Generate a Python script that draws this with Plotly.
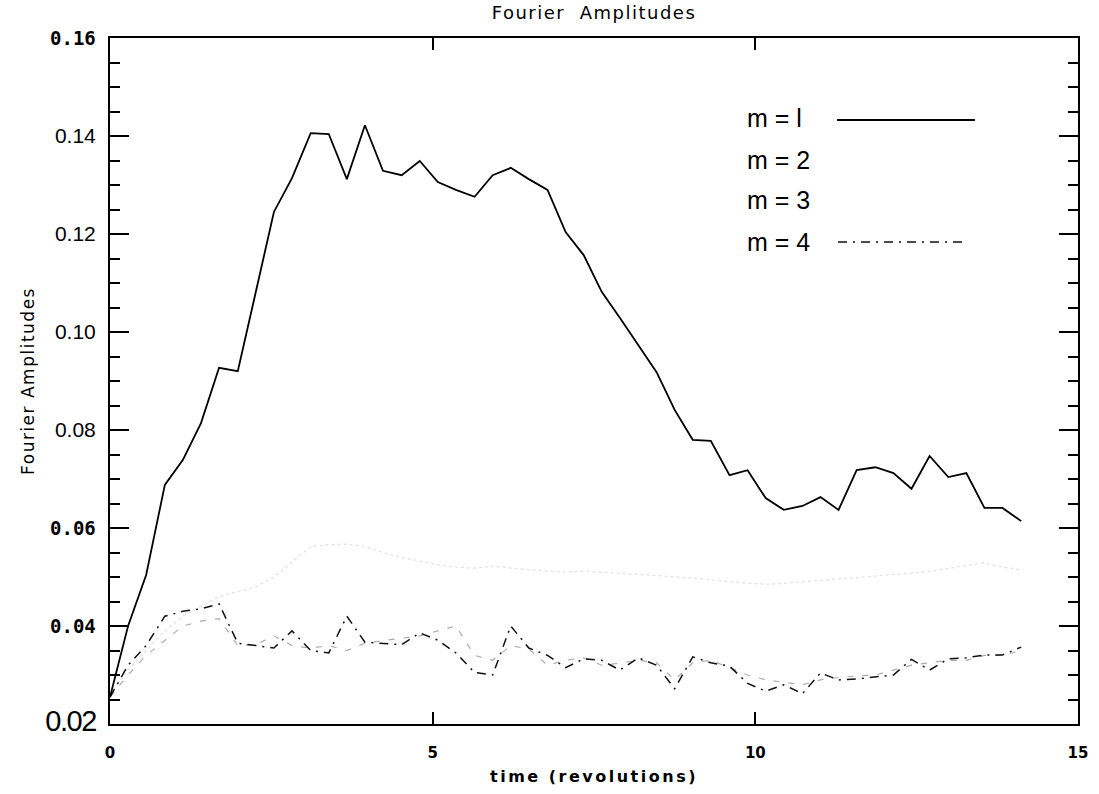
import plotly.graph_objects as go

# ---- data ----
time_rev = [0.00, 0.28, 0.56, 0.85, 1.13, 1.41, 1.69, 1.98, 2.26, 2.54,
            2.82, 3.11, 3.39, 3.67, 3.95, 4.23, 4.52, 4.80, 5.08, 5.36,
            5.65, 5.93, 6.21, 6.49, 6.78, 7.06, 7.34, 7.62, 7.90, 8.19,
            8.47, 8.75, 9.03, 9.31, 9.60, 9.88, 10.16, 10.44, 10.73, 11.01,
            11.29, 11.57, 11.86, 12.14, 12.42, 12.70, 12.99, 13.27, 13.55, 13.83,
            14.12]

amp_m1 = [0.0255, 0.0400, 0.0504, 0.0688, 0.0739, 0.0814, 0.0927, 0.0920, 0.1082, 0.1245,
          0.1314, 0.1406, 0.1404, 0.1312, 0.1422, 0.1329, 0.1320, 0.1349, 0.1306, 0.1290,
          0.1276, 0.1320, 0.1335, 0.1312, 0.1290, 0.1204, 0.1157, 0.1082, 0.1029, 0.0973,
          0.0918, 0.0841, 0.0780, 0.0778, 0.0708, 0.0718, 0.0661, 0.0637, 0.0645, 0.0663,
          0.0637, 0.0718, 0.0724, 0.0712, 0.0680, 0.0747, 0.0704, 0.0712, 0.0641, 0.0641,
          0.0614]

amp_m2 = [0.0260, 0.0310, 0.0350, 0.0390, 0.0420, 0.0440, 0.0460, 0.0470, 0.0480, 0.0500,
          0.0530, 0.0562, 0.0566, 0.0567, 0.0562, 0.0550, 0.0540, 0.0532, 0.0525, 0.0520,
          0.0518, 0.0522, 0.0518, 0.0515, 0.0512, 0.0510, 0.0512, 0.0510, 0.0508, 0.0505,
          0.0503, 0.0500, 0.0498, 0.0495, 0.0490, 0.0488, 0.0485, 0.0487, 0.0490, 0.0492,
          0.0495, 0.0498, 0.0502, 0.0505, 0.0508, 0.0512, 0.0518, 0.0524, 0.0529, 0.0520,
          0.0515]

amp_m3 = [0.0255, 0.0300, 0.0340, 0.0370, 0.0400, 0.0410, 0.0415, 0.0360, 0.0362, 0.0380,
          0.0360, 0.0355, 0.0360, 0.0350, 0.0365, 0.0370, 0.0375, 0.0380, 0.0390, 0.0400,
          0.0340, 0.0330, 0.0360, 0.0353, 0.0320, 0.0330, 0.0335, 0.0320, 0.0324, 0.0330,
          0.0325, 0.0290, 0.0325, 0.0330, 0.0315, 0.0300, 0.0290, 0.0285, 0.0280, 0.0290,
          0.0295, 0.0298, 0.0300, 0.0310, 0.0320, 0.0325, 0.0330, 0.0330, 0.0340, 0.0340,
          0.0350]

amp_m4 = [0.0255, 0.0320, 0.0360, 0.0420, 0.0430, 0.0435, 0.0445, 0.0365, 0.0360, 0.0355,
          0.0390, 0.0350, 0.0345, 0.0420, 0.0367, 0.0365, 0.0362, 0.0386, 0.0371, 0.0345,
          0.0305, 0.0300, 0.0400, 0.0355, 0.0340, 0.0315, 0.0333, 0.0330, 0.0310, 0.0335,
          0.0320, 0.0272, 0.0337, 0.0325, 0.0318, 0.0283, 0.0267, 0.0280, 0.0262, 0.0304,
          0.0290, 0.0292, 0.0296, 0.0300, 0.0332, 0.0310, 0.0333, 0.0335, 0.0341, 0.0341,
          0.0357]

series_names = ["m = l", "m = 2", "m = 3", "m = 4"]

MONO_B = "<span style='font-family:DejaVu Sans Mono, monospace;font-weight:bold;font-size:19px'>{}</span>"
y_tick_vals = [0.02, 0.04, 0.06, 0.08, 0.10, 0.12, 0.14, 0.16]
y_tick_text = [
    "<span style='font-family:Liberation Sans, Arial, sans-serif;font-size:29px;letter-spacing:-1.5px'>0.02</span>",
    MONO_B.format("0.04"), MONO_B.format("0.06"), "0.08", "0.10", "0.12", "0.14",
    MONO_B.format("0.16"),
]
x_tick_vals = [0, 5, 10, 15]
x_tick_text = ["0", "5", "10", "15"]

# ---- figure ----
fig = go.Figure()
fig.add_trace(go.Scatter(x=time_rev, y=amp_m2, mode="lines", name=series_names[1],
                         line=dict(color="#e2e2e2", width=1.3, dash="dot")))
fig.add_trace(go.Scatter(x=time_rev, y=amp_m3, mode="lines", name=series_names[2],
                         line=dict(color="#ababab", width=1.2, dash="6px,9px")))
fig.add_trace(go.Scatter(x=time_rev, y=amp_m4, mode="lines", name=series_names[3],
                         line=dict(color="#111111", width=1.5, dash="9px,6px,2px,6px")))
fig.add_trace(go.Scatter(x=time_rev, y=amp_m1, mode="lines", name=series_names[0],
                         line=dict(color="#000000", width=1.8)))

L, R, T, B = 110, 21, 38, 70
W, H = 1099, 794
pw, ph = W - L - R, H - T - B

def px_x(px):
    return (px - L) / pw

def px_y(py):
    return (H - B - py) / ph

legend_font = dict(family="Liberation Sans, Arial, sans-serif", size=25, color="#000000")
legend_rows = [118, 160, 200, 242]
for name, row in zip(series_names, legend_rows):
    fig.add_annotation(text=name, xref="paper", yref="paper", x=px_x(745), y=px_y(row),
                       xanchor="left", yanchor="middle", showarrow=False, font=legend_font)

fig.add_shape(type="line", xref="paper", yref="paper",
              x0=px_x(837), x1=px_x(975), y0=px_y(120), y1=px_y(120),
              line=dict(color="#000000", width=2))
fig.add_shape(type="line", xref="paper", yref="paper",
              x0=px_x(838), x1=px_x(968), y0=px_y(242), y1=px_y(242),
              line=dict(color="#111111", width=1.5, dash="9px,6px,2px,6px"))

fig.update_layout(
    width=W, height=H,
    margin=dict(l=L, r=R, t=T, b=B, pad=0),
    paper_bgcolor="white", plot_bgcolor="white",
    showlegend=False,
    font=dict(family="Liberation Sans, Arial, sans-serif", color="#000000"),
    title=dict(text="<span style='letter-spacing:1.5px'>Fourier  Amplitudes</span>",
               x=0.5, xref="paper", xanchor="center",
               y=1 - 13 / H, yref="container", yanchor="middle",
               font=dict(family="DejaVu Sans, sans-serif", size=18, color="#000000")),
    xaxis=dict(range=[0, 15], tickmode="array", tickvals=x_tick_vals, ticktext=x_tick_text,
               ticks="inside", ticklen=12, tickwidth=1.5, tickcolor="#000000",
               showline=True, linewidth=2, linecolor="#000000", mirror="ticks",
               showgrid=False, zeroline=False, ticklabelstandoff=14, automargin=False,
               tickfont=dict(family="DejaVu Sans, sans-serif", size=15, weight="bold"),
               title=dict(text="<b><span style='letter-spacing:2.5px'>time (revolutions)</span></b>",
                          standoff=10,
                          font=dict(family="DejaVu Sans, sans-serif", size=16))),
    yaxis=dict(range=[0.02, 0.16], tickmode="array", tickvals=y_tick_vals, ticktext=y_tick_text,
               ticks="inside", ticklen=19, tickwidth=1.5, tickcolor="#000000",
               showline=True, linewidth=2, linecolor="#000000", mirror="ticks",
               showgrid=False, zeroline=False, ticklabelstandoff=8, automargin=False,
               tickfont=dict(family="Liberation Sans, Arial, sans-serif", size=21),
               minor=dict(tickmode="linear", tick0=0.02, dtick=0.005, ticks="inside",
                          ticklen=10, tickwidth=1.5, tickcolor="#000000", showgrid=False),
               title=dict(text="<span style='letter-spacing:1.5px'>Fourier Amplitudes</span>",
                          standoff=6,
                          font=dict(family="DejaVu Sans, sans-serif", size=17))),
)

fig.write_html("out.html")
